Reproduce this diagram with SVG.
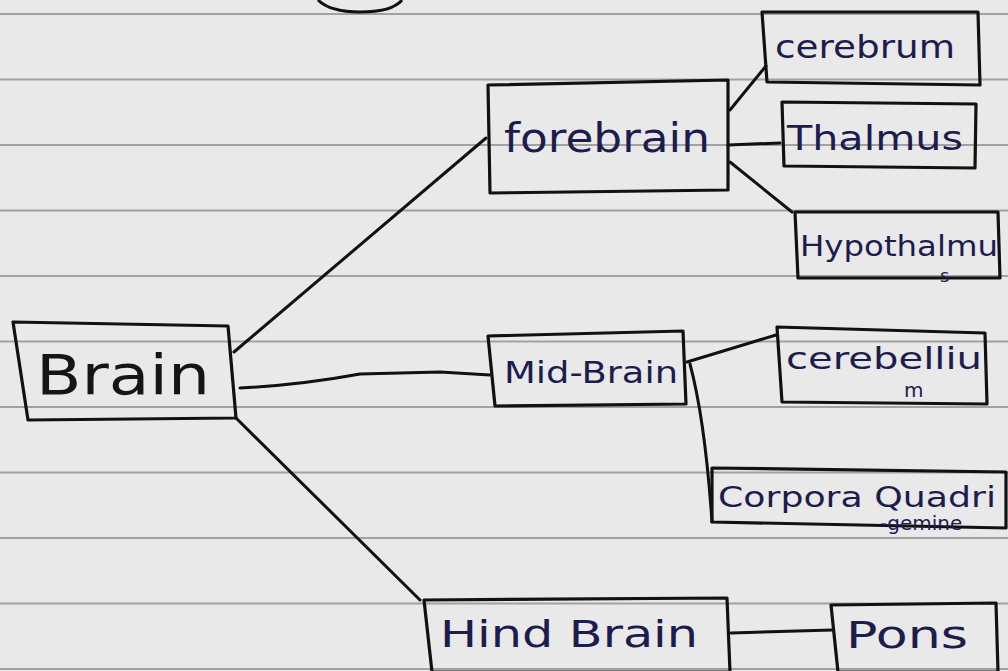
<svg xmlns="http://www.w3.org/2000/svg" width="1008" height="671" viewBox="0 0 1008 671">
<style>
.rule{stroke:#8e8e8e;stroke-width:2;fill:none;opacity:0.8}
.box{fill:none;stroke:#111;stroke-width:3.2;stroke-linejoin:round}
.conn{fill:none;stroke:#111;stroke-width:3;stroke-linecap:round}
.lbl{font-family:"DejaVu Sans","Liberation Sans",sans-serif;fill:#1c1c4e}
</style>
<rect x="0" y="0" width="1008" height="671" fill="#e9e9e9"/>
<g id="paper">
<path class="rule" d="M0 14H1008M0 79.5H1008M0 145H1008M0 210.5H1008M0 276H1008M0 341.5H1008M0 407H1008M0 472.5H1008M0 538H1008M0 603.5H1008M0 669H1008"/>
<path d="M318 0 Q330 12 360 12 Q392 12 402 0" fill="none" stroke="#111" stroke-width="3"/>
</g>
<g id="connectors">
<path class="conn" d="M234 352 L486 138"/>
<path class="conn" d="M240 388 Q300 385 360 374 L440 372 L490 375"/>
<path class="conn" d="M236 418 L420 600"/>
<path class="conn" d="M730 110 L766 66"/>
<path class="conn" d="M728 145 L780 143"/>
<path class="conn" d="M730 162 L792 212"/>
<path class="conn" d="M687 362 L776 335"/>
<path class="conn" d="M690 364 Q705 420 712 522"/>
<path class="conn" d="M731 633 L832 630"/>
</g>
<g id="brain">
<path class="box" d="M13 322 L228 326 L236 418 L28 420 Z"/>
<text class="lbl" x="36" y="394" font-size="56" textLength="174" lengthAdjust="spacingAndGlyphs" style="fill:#151515">Brain</text>
</g>
<g id="forebrain">
<path class="box" d="M488 85 L728 80 L728 190 L490 193 Z"/>
<text class="lbl" x="504" y="152" font-size="40" textLength="206" lengthAdjust="spacingAndGlyphs">forebrain</text>
</g>
<g id="cerebrum">
<path class="box" d="M762 12 L978 12 L980 85 L767 82 Z"/>
<text class="lbl" x="775" y="58" font-size="32" textLength="180" lengthAdjust="spacingAndGlyphs">cerebrum</text>
</g>
<g id="thalmus">
<path class="box" d="M782 102 L976 104 L975 168 L784 166 Z"/>
<text class="lbl" x="787" y="150" font-size="33" textLength="176" lengthAdjust="spacingAndGlyphs">Thalmus</text>
</g>
<g id="hypothalmus">
<path class="box" d="M795 212 L998 212 L1000 278 L798 278 Z"/>
<text class="lbl" x="800" y="256" font-size="29" textLength="198" lengthAdjust="spacingAndGlyphs">Hypothalmu</text>
<text class="lbl" x="940" y="282" font-size="18">s</text>
</g>
<g id="midbrain">
<path class="box" d="M488 336 L683 331 L686 404 L495 406 Z"/>
<text class="lbl" x="504" y="383" font-size="30" textLength="174" lengthAdjust="spacingAndGlyphs">Mid-Brain</text>
</g>
<g id="cerebellium">
<path class="box" d="M777 327 L985 333 L987 404 L782 402 Z"/>
<text class="lbl" x="786" y="369" font-size="30" textLength="196" lengthAdjust="spacingAndGlyphs">cerebelliu</text>
<text class="lbl" x="904" y="397" font-size="20">m</text>
</g>
<g id="corpora">
<path class="box" d="M712 468 L1006 472 L1006 528 L712 522 Z"/>
<text class="lbl" x="718" y="507" font-size="29" textLength="278" lengthAdjust="spacingAndGlyphs">Corpora Quadri</text>
<text class="lbl" x="880" y="530" font-size="20">-gemine</text>
</g>
<g id="hindbrain">
<path class="box" d="M424 600 L727 598 L730 672 L432 672 Z"/>
<text class="lbl" x="440" y="647" font-size="38" textLength="258" lengthAdjust="spacingAndGlyphs">Hind Brain</text>
</g>
<g id="pons">
<path class="box" d="M831 605 L996 603 L998 672 L838 672 Z"/>
<text class="lbl" x="846" y="648" font-size="38" textLength="122" lengthAdjust="spacingAndGlyphs">Pons</text>
</g>
</svg>
